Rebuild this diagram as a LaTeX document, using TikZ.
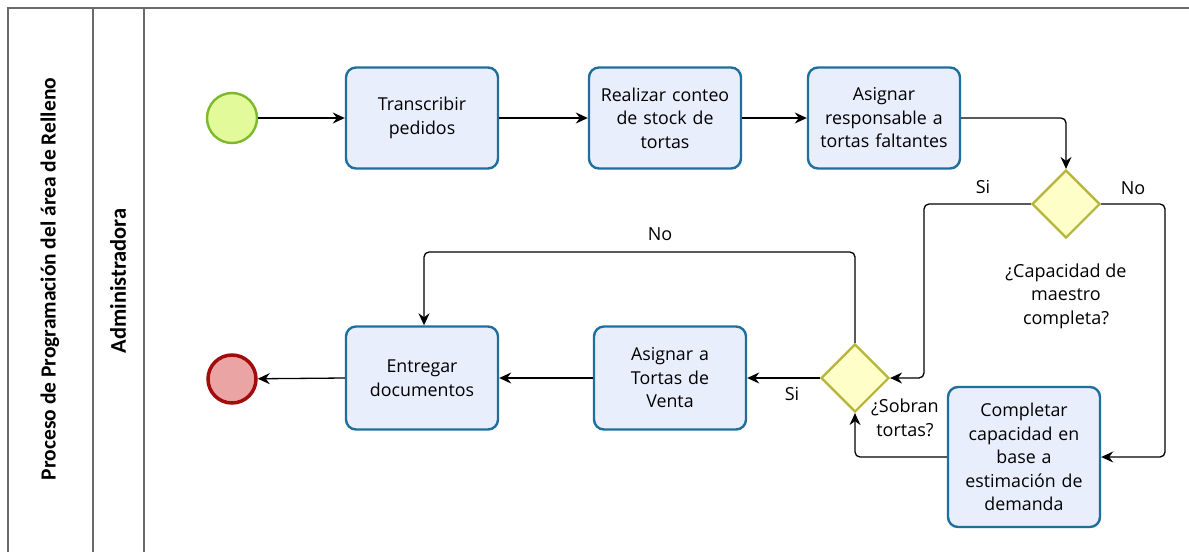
\documentclass[tikz,border=0pt]{standalone}
\usepackage{fontspec}
\setmainfont{Open Sans}
\newfontfamily\lanefont{Carlito}
\usetikzlibrary{shapes.geometric,arrows.meta}
\definecolor{taskfill}{HTML}{E9EEFD}
\definecolor{taskline}{HTML}{1F6F9E}
\definecolor{gwfill}{HTML}{FEFEC8}
\definecolor{gwline}{HTML}{B5B53A}
\definecolor{startfill}{HTML}{E2FA9A}
\definecolor{startline}{HTML}{7DB92B}
\definecolor{endfill}{HTML}{EBA4A4}
\definecolor{endline}{HTML}{A30C0C}
\definecolor{poolline}{HTML}{6A6A6A}
\tikzset{
  task/.style={draw=taskline, fill=taskfill, line width=2.4pt, rounded corners=10pt,
    minimum width=152pt, minimum height=101pt, text width=148pt, align=center,
    inner sep=0pt, font=\fontsize{17.8}{23.5}\selectfont},
  gateway/.style={draw=gwline, fill=gwfill, line width=2.2pt, diamond, aspect=1,
    minimum size=68pt, inner sep=0pt},
  startev/.style={circle, draw=startline, fill=startfill, line width=2.4pt,
    minimum size=50pt, inner sep=0pt},
  endev/.style={circle, draw=endline, fill=endfill, line width=3.5pt,
    minimum size=48pt, inner sep=0pt},
  flow/.style={line width=1.3pt, rounded corners=5pt,
    -{Stealth[length=12pt,width=11pt,inset=4pt]}},
  lbl/.style={font=\fontsize{18}{23.5}\selectfont, align=center, inner sep=0pt},
  pool/.style={draw=poolline, line width=1.4pt},
  lanelbl/.style={font=\lanefont\bfseries\fontsize{21.5}{24}\selectfont, rotate=90, inner sep=0pt}
}
\begin{document}
\begin{tikzpicture}[x=1pt,y=-1pt]
\useasboundingbox (0,0) rectangle (1189,552);
\fill[white] (0,0) rectangle (1189,552);

% pool and lane frame
\draw[pool] (1189,8) -- (8,8) -- (8,552);
\draw[pool] (93,8) -- (93,552);
\draw[pool] (144,8) -- (144,552);
\node[lanelbl] (poolname) at (50,279) {Proceso de Programación del área de Relleno};
\node[lanelbl, font=\lanefont\bfseries\fontsize{22.5}{24}\selectfont] (lanename) at (118,281) {Administradora};

% events
\node[startev] (start) at (232,118) {};
\node[endev] (end) at (232,379) {};

% tasks
\node[task] (t1) at (422,118) {Transcribir\\pedidos};
\node[task] (t2) at (665,118) {Realizar conteo\\de stock de\\tortas};
\node[task] (t3) at (884,118) {Asignar\\responsable a\\tortas faltantes};
\node[task, minimum height=140pt] (t4) at (1024,457) {Completar\\capacidad en\\base a\\estimación de\\demanda};
\node[task, minimum height=103pt] (t5) at (670,378) {Asignar a\\Tortas de\\Venta};
\node[task, minimum height=103pt] (t6) at (422,378) {Entregar\\documentos};

% gateways
\node[gateway] (g1) at (1066,204) {};
\node[gateway] (g2) at (855,378) {};

% routing points
\coordinate (c1) at (1066,118);
\coordinate (c2) at (924,204);
\coordinate (c3) at (924,378);
\coordinate (c4) at (1165,204);
\coordinate (c5) at (1165,457);
\coordinate (c6) at (855,457);
\coordinate (c7) at (855,252);
\coordinate (c8) at (424,252);

% sequence flows
\draw[flow] (start) -- (t1);
\draw[flow] (t1) -- (t2);
\draw[flow] (t2) -- (t3);
\draw[flow] (t3.east) -- (c1) -- (g1.north);
\draw[flow] (g1.west) -- (c2) -- (c3) -- (g2.east);
\draw[flow] (g1.east) -- (c4) -- (c5) -- (t4.east);
\draw[flow] (t4.west) -- (c6) -- (g2.south);
\draw[flow] (g2.north) -- (c7) -- (c8) -- (t6.north -| c8);
\draw[flow] (g2.west) -- (t5.east);
\draw[flow] (t5.west) -- (t6.east);
\draw[flow] (t6.west) -- (end);

% labels
\node[lbl] (si1) at (983,187) {Si};
\node[lbl] (no1) at (1133,188) {No};
\node[lbl] (q1) at (1066,296) {¿Capacidad de\\maestro\\completa?};
\node[lbl] (no2) at (660,234) {No};
\node[lbl] (si2) at (792,394) {Si};
\node[lbl] (q2) at (905,418) {¿Sobran\\tortas?};
\end{tikzpicture}
\end{document}
